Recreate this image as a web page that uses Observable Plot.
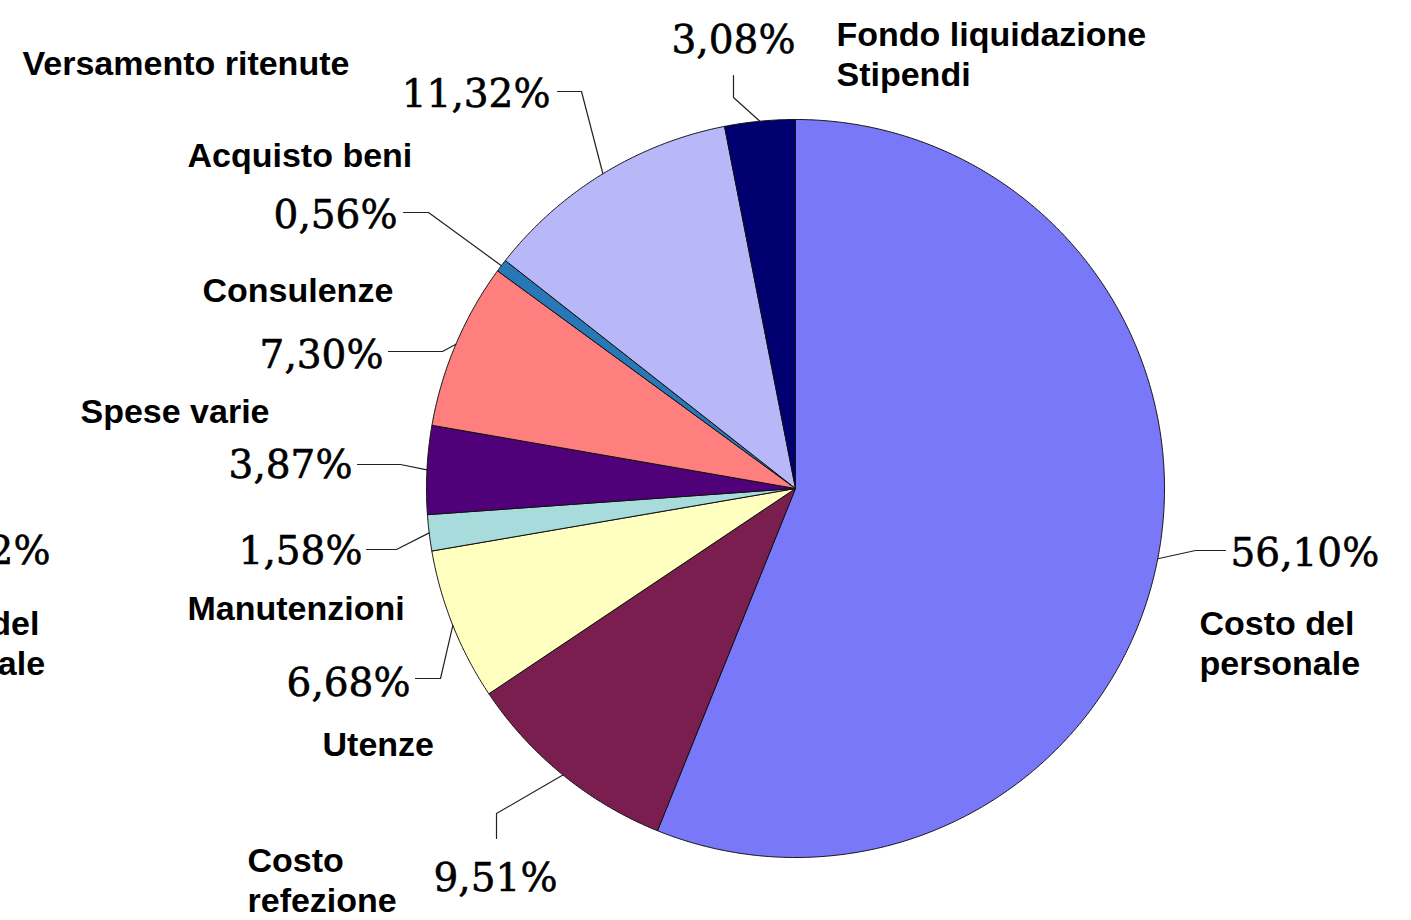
<!DOCTYPE html>
<html><head><meta charset="utf-8">
<script src="https://cdn.jsdelivr.net/npm/d3@7"></script>
<script src="https://cdn.jsdelivr.net/npm/@observablehq/plot@0.6"></script>
<style>html,body{margin:0;padding:0;background:#fff}</style>
</head><body><div id="chart"></div>
<script>
// ---- data ----
const categories = ["Costo del\npersonale","Costo\nrefezione","Utenze","Manutenzioni","Spese varie","Consulenze","Acquisto beni","Versamento ritenute","Fondo liquidazione\nStipendi"];
const shares = [56.10, 9.51, 6.68, 1.58, 3.87, 7.30, 0.56, 11.32, 3.08];
const shareLabels = ["56,10%","9,51%","6,68%","1,58%","3,87%","7,30%","0,56%","11,32%","3,08%"];
const colors = ["#7878f8","#7a1e50","#ffffc0","#a8dcdc","#500078","#ff7f7f","#2878b8","#b8b8f8","#000070"];
// cropped remnants of a neighbouring chart at the left edge
const croppedPct = "11,32%";
const croppedLabel = "Costo del\npersonale";

// ---- layout (pixels) ----
const W = 1411, H = 920, CX = 795, CY = 488, R = 369;
const px = x => (x - CX) / R, py = y => (CY - y) / R;
// percentage label: [x, y, anchor]
const pctPos = [[1230,553,"start"],[495,878,"middle"],[410,683,"end"],[362,551,"end"],[352,465,"end"],[383,355,"end"],[397,215,"end"],[550,94,"end"],[733,40,"middle"]];
// category label: [x, y(block centre), anchor]
const catPos = [[1199,642,"start"],[247,879,"start"],[322,743,"start"],[187,607,"start"],[80,410,"start"],[202,289,"start"],[187,154,"start"],[22,62,"start"],[836,53,"start"]];
// leader line: elbow and end points
const leaderPts = [[[1195,550],[1225,550]],[[496,813],[496,838]],[[440,678],[415,678]],[[396,549],[366,549]],[[400,464],[357,464]],[[442,351],[388,351]],[[428,212],[403,212]],[[581,91],[557,91]],[[733,97],[733,75]]];

// ---- geometry from data ----
const arcs = d3.pie().sort(null).startAngle(0).endAngle(2*Math.PI)(shares);
const sliceMarks = arcs.map((a, i) => {
  const pts = [{X:0, Y:0}];
  const n = Math.max(2, Math.ceil((a.endAngle - a.startAngle) / 0.005));
  for (let k = 0; k <= n; k++) {
    const t = a.startAngle + (a.endAngle - a.startAngle) * k / n;
    pts.push({X: Math.sin(t), Y: Math.cos(t)});
  }
  pts.push({X:0, Y:0});
  return Plot.line(pts, {x:"X", y:"Y", fill: colors[i], stroke:"#111", strokeWidth:1, strokeLinejoin:"miter"});
});
const leaderRows = [];
arcs.forEach((a, i) => {
  const m = (a.startAngle + a.endAngle) / 2;
  leaderRows.push({i, X: Math.sin(m), Y: Math.cos(m)});
  leaderPts[i].forEach(p => leaderRows.push({i, X: px(p[0]), Y: py(p[1])}));
});

const pctRows = shareLabels.map((t, i) => ({t, X: px(pctPos[i][0]), Y: py(pctPos[i][1]), a: pctPos[i][2]}));
pctRows.push({t: croppedPct, X: px(50), Y: py(551), a: "end"});
const catRows = categories.map((t, i) => ({t, X: px(catPos[i][0]), Y: py(catPos[i][1]), a: catPos[i][2]}));
catRows.push({t: croppedLabel, X: px(-116), Y: py(642), a: "start"});

const textMarks = (rows, opts) => ["start","middle","end"].map(anchor =>
  Plot.text(rows.filter(r => r.a === anchor), {x:"X", y:"Y", text:"t", textAnchor: anchor, fill:"#000", ...opts}));

const chart = Plot.plot({
  width: W, height: H, margin: 0,
  x: {domain: [px(0), px(W)], axis: null},
  y: {domain: [py(H), py(0)], axis: null},
  style: {background: "#fff"},
  marks: [
    ...sliceMarks,
    Plot.line(leaderRows, {x:"X", y:"Y", z:"i", stroke:"#222", strokeWidth:1.2, strokeLinejoin:"miter"}),
    ...textMarks(pctRows, {fontFamily:"DejaVu Serif", fontSize:39, stroke:"#000", strokeWidth:0.6}),
    ...textMarks(catRows, {fontFamily:"Liberation Sans, Arial, sans-serif", fontWeight:"bold", fontSize:34, lineHeight:1.18})
  ]
});
document.getElementById("chart").appendChild(chart);
</script>
</body></html>
